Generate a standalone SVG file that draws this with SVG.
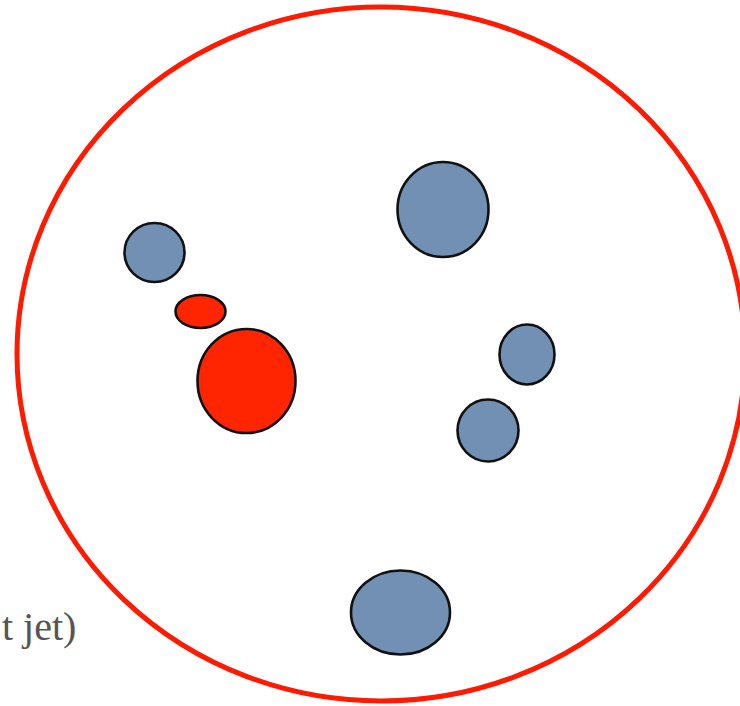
<svg xmlns="http://www.w3.org/2000/svg" width="740" height="706" viewBox="0 0 740 706">
<style>
.boundary{fill:none;stroke:#ff1a00;stroke-width:5}
.blue{fill:#7290b4;stroke:#111;stroke-width:2.6}
.red{fill:#ff2500;stroke:#111;stroke-width:2.6}
.lbl{font-family:'Liberation Serif','DejaVu Serif',serif;font-size:40px;fill:#555}
</style>
<rect width="740" height="706" fill="#fff"/>
<g id="region">
<ellipse class="boundary" cx="381" cy="354" rx="364" ry="347"/>
</g>
<g id="connectors"></g>
<g id="blob-upper-left"><ellipse class="blue" cx="154.5" cy="252.5" rx="30" ry="29.5"/></g>
<g id="red-small"><ellipse class="red" cx="200.5" cy="311.5" rx="25" ry="16.5"/></g>
<g id="red-large"><ellipse class="red" cx="246.5" cy="381" rx="49" ry="52"/></g>
<g id="blob-top"><ellipse class="blue" cx="443" cy="209.5" rx="45.5" ry="47.5"/></g>
<g id="blob-right"><ellipse class="blue" cx="527" cy="354.5" rx="27.5" ry="30"/></g>
<g id="blob-mid"><ellipse class="blue" cx="488" cy="430.5" rx="30.5" ry="31"/></g>
<g id="blob-bottom"><ellipse class="blue" cx="400.5" cy="612.5" rx="49.5" ry="42"/></g>
<g id="label"><text class="lbl" x="2" y="640">t jet)</text></g>
</svg>
